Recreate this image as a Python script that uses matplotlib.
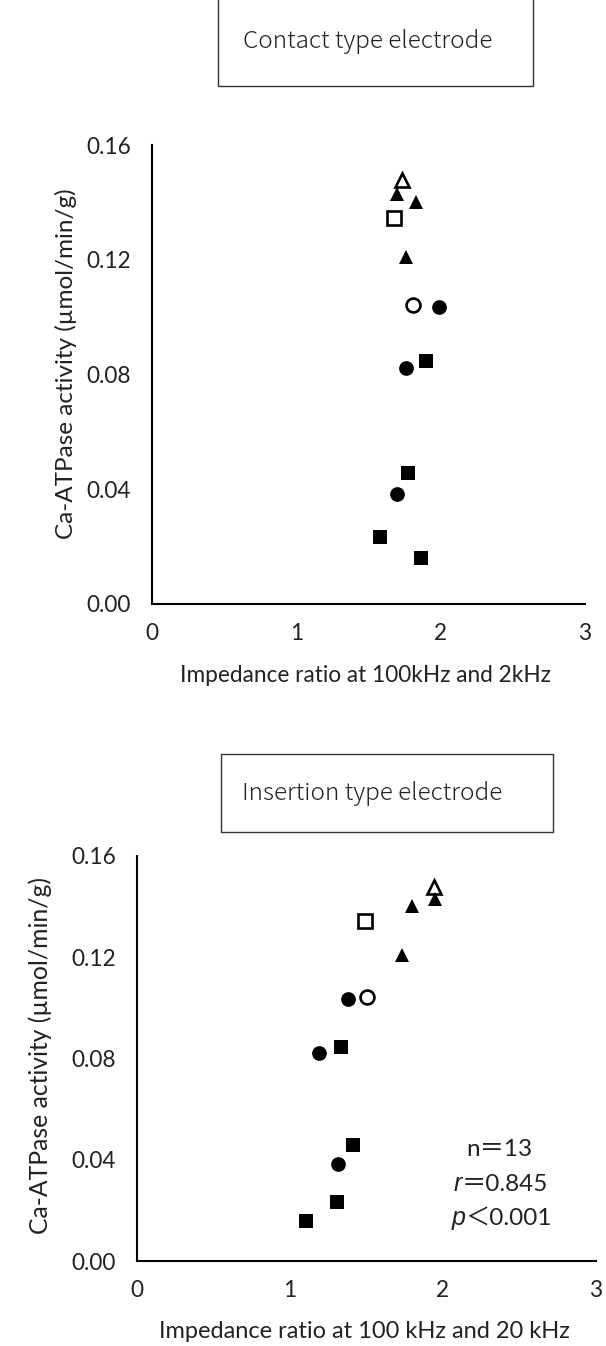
import matplotlib
matplotlib.use("Agg")
import matplotlib.pyplot as plt
from matplotlib.patches import Rectangle

W, H = 606, 1346

# Ca-ATPase activity of each sample (same samples in both panels)
ca_activity = [0.1477, 0.1429, 0.1403, 0.1345, 0.1210, 0.1044, 0.1034,
               0.0846, 0.0822, 0.0457, 0.0382, 0.0234, 0.0160]
marker_shape = ["^", "^", "^", "s", "^", "o", "o", "s", "o", "s", "o", "s", "s"]
marker_open = [True, False, False, True, False, True, False,
               False, False, False, False, False, False]

# impedance ratios, 100kHz/2kHz (contact) and 100kHz/20kHz (insertion)
ratio_contact = [1.729, 1.695, 1.828, 1.676, 1.757, 1.810, 1.988,
                 1.898, 1.757, 1.775, 1.695, 1.579, 1.863]
ratio_insertion = [1.942, 1.949, 1.798, 1.491, 1.734, 1.508, 1.383,
                   1.334, 1.194, 1.411, 1.316, 1.306, 1.105]

y_ticks = [0.00, 0.04, 0.08, 0.12, 0.16]
x_ticks = [0, 1, 2, 3]

panel_titles = ["Contact type electrode", "Insertion type electrode"]
x_titles = ["Impedance ratio at 100kHz and 2kHz",
            "Impedance ratio at 100 kHz and 20 kHz"]
y_title = "Ca-ATPase activity (µmol/min/g)"
stats_lines = [("", "n＝13"), ("r", "＝0.845"), ("p", "＜0.001")]

LABEL_FONT = ["Lato", "Noto Sans CJK JP", "DejaVu Sans"]
BOX_FONT = ["Noto Sans CJK JP", "DejaVu Sans"]
FS = 16.3
INK = "#222222"

fig = plt.figure(figsize=(W / 100, H / 100), dpi=100)


def fx(px):
    return px / W


def fy(py):
    return 1 - py / H


def px_axes(left, top, right, bottom):
    return fig.add_axes([fx(left), fy(bottom), (right - left) / W, (bottom - top) / H])


def title_box(left, top, right, bottom, text_x, text):
    fig.patches.append(Rectangle((fx(left), fy(bottom)), (right - left) / W,
                                 (bottom - top) / H, transform=fig.transFigure,
                                 facecolor="white", edgecolor="#333333", lw=1.0))
    fig.text(fx(text_x), fy((top + bottom) / 2), text, family=BOX_FONT,
             fontweight="light", fontsize=17.5, color=INK,
             ha="left", va="center")


def scatter_panel(ax, xs):
    for x, y, m, hollow in zip(xs, ca_activity, marker_shape, marker_open):
        size = 10.6
        if hollow:
            ax.plot(x, y, marker=m, ms=size - 0.6, mfc="white", mec="black",
                    mew=1.9, ls="none", zorder=3)
        else:
            ax.plot(x, y, marker=m, ms=size, mfc="black", mec="black",
                    mew=0, ls="none", zorder=3)
    ax.set_xlim(0, 3)
    ax.set_ylim(0, 0.16)
    ax.set_xticks(x_ticks)
    ax.set_yticks(y_ticks)
    ax.set_yticklabels([f"{v:.2f}" for v in y_ticks])
    for side in ["top", "right"]:
        ax.spines[side].set_visible(False)
    for side in ["left", "bottom"]:
        ax.spines[side].set_linewidth(1.5)
    ax.tick_params(length=0, labelsize=FS, colors=INK)
    ax.tick_params(axis="y", pad=15)
    ax.tick_params(axis="x", pad=14)
    for lab in ax.get_xticklabels() + ax.get_yticklabels():
        lab.set_family(LABEL_FONT)


# top panel: contact type electrode
title_box(218, -2, 533, 86, 243, panel_titles[0])
ax1 = px_axes(152, 145, 585, 604)
scatter_panel(ax1, ratio_contact)
fig.text(fx(366), fy(675), x_titles[0], family=LABEL_FONT, fontsize=FS,
         ha="center", va="center", color=INK)
fig.text(fx(66), fy(364), y_title, family=LABEL_FONT, fontsize=17.5,
         rotation=90, ha="center", va="center", color=INK)

# bottom panel: insertion type electrode
title_box(221, 754, 553, 832, 242, panel_titles[1])
ax2 = px_axes(136.5, 856, 596, 1261)
scatter_panel(ax2, ratio_insertion)
fig.text(fx(364), fy(1332), x_titles[1], family=LABEL_FONT, fontsize=17,
         ha="center", va="center", color=INK)
fig.text(fx(40), fy(1056), y_title, family=LABEL_FONT, fontsize=17.8,
         rotation=90, ha="center", va="center", color=INK)

# correlation statistics
stat_x = [2.15, 2.125, 2.15]
stat_y = [0.044, 0.0303, 0.0169]
for (sym, rest), sx, sy in zip(stats_lines, stat_x, stat_y):
    if sym:
        ax2.text(sx, sy, sym, family="Liberation Sans", style="italic",
                 fontsize=18, ha="right", va="center", color=INK)
    ax2.text(sx, sy, rest, family=LABEL_FONT, fontsize=17.5,
             ha="left", va="center", color=INK)

fig.savefig("out.png", dpi=100)
